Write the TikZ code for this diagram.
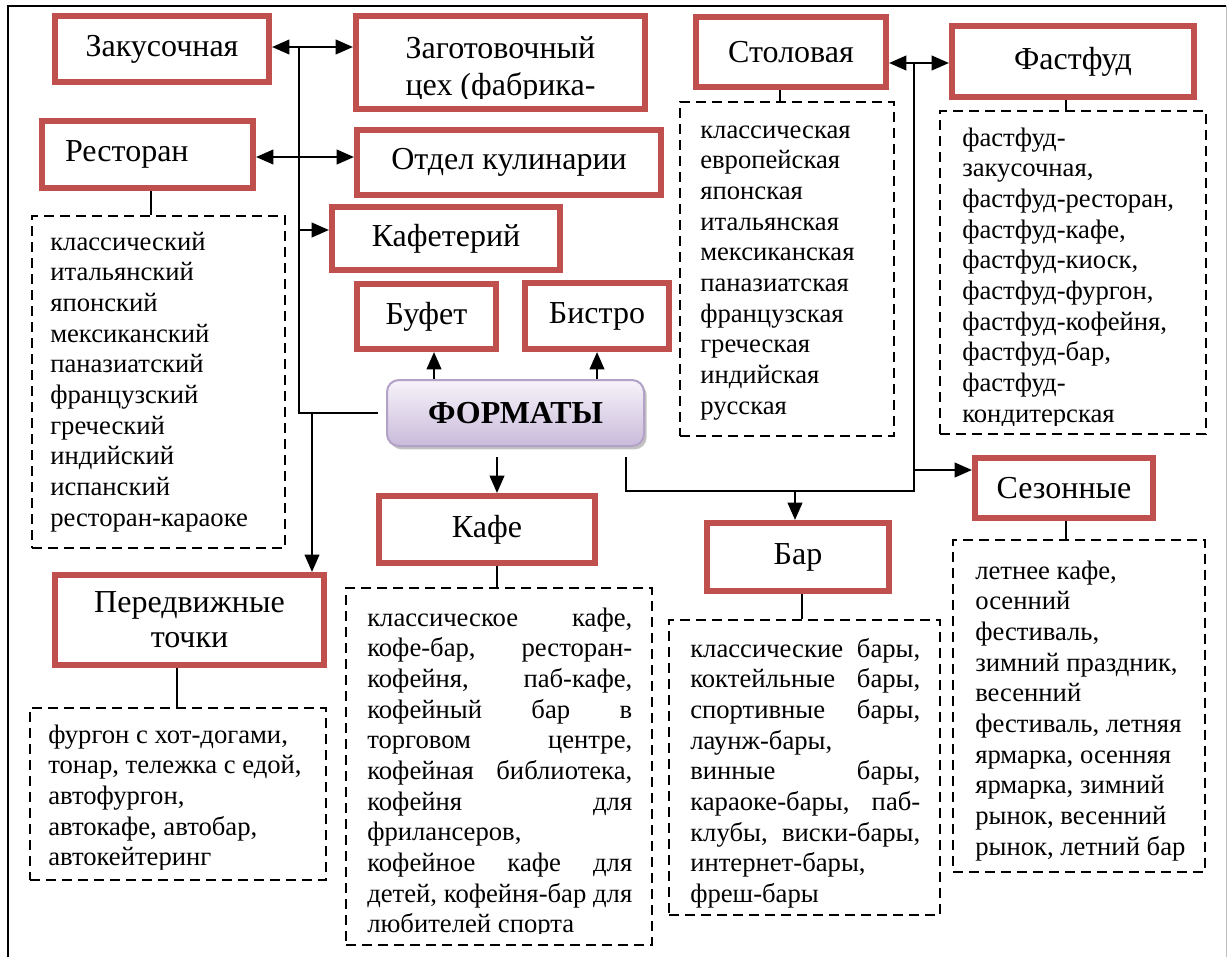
\documentclass[tikz,border=0pt]{standalone}
\usepackage{fontspec}
\setmainfont{Liberation Serif}
\usetikzlibrary{arrows.meta,calc,shadows}
\definecolor{redb}{HTML}{C0504D}
\definecolor{lavtop}{HTML}{F7F3FA}
\definecolor{lavbot}{HTML}{C9BADA}
\definecolor{lavbd}{HTML}{B3A2C7}
\newcommand\jline[1]{\makebox[\linewidth][s]{#1}}
\begin{document}
\begin{tikzpicture}[x=0.75pt,y=-0.75pt,
  title/.style={draw=redb, line width=4.6pt, fill=white, inner sep=0pt,
    font=\fontsize{24}{28}\selectfont, align=center},
  tb/.style 2 args={title, minimum width=#1*0.75pt, minimum height=#2*0.75pt},
  listbox/.style 2 args={draw=black, line width=1.9pt, dash pattern=on 7.5pt off 4.5pt,
    inner sep=0pt, minimum width=#1*0.75pt, minimum height=#2*0.75pt},
  listtxt/.style={anchor=base west, inner sep=0pt, font=\fontsize{20}{23}\selectfont},
  conn/.style={line width=1.6pt},
  arr/.style={conn, -{Triangle[length=13pt,width=11pt]}},
  dbl/.style={conn, {Triangle[length=13pt,width=11pt]}-{Triangle[length=13pt,width=11pt]}},
]
\useasboundingbox (0,0) rectangle (1227,957);
% frame
\draw[line width=1.7pt] (8,957) -- (8,6) -- (1226,6);
\draw[line width=0.6pt, black!25] (1226,6) -- (1226,957);

% title boxes
\node[tb={214}{66}] (zak) at (162,49) {Закусочная};
\node[tb={289}{93}] (zag) at (500.5,62.5) {};
\begin{scope}
  \clip (356,16) rectangle (645,98);
  \node[anchor=base, inner sep=0pt, font=\fontsize{24}{28}\selectfont] (zagt) at (500.5,58)
    {\parbox[t]{280pt}{\centering Заготовочный\\ цех (фабрика-}};
\end{scope}
\node[tb={190}{70}] (stol) at (791,52) {Столовая};
\node[tb={242}{71}] (fast) at (1073,61.5) {Фастфуд};
\node[tb={211}{67}] (rest) at (147.5,154.5) {\hspace*{-31pt}Ресторан};
\node[tb={304}{65}] (otdel) at (509,162.5) {Отдел кулинарии};
\node[tb={228}{63}] (kftr) at (446,238.5) {Кафетерий};
\node[tb={139}{65}] (bufet) at (426.5,316.5) {Буфет};
\node[tb={144}{66}] (bistro) at (597,316) {Бистро};
\node[tb={216}{67}] (kafe) at (487,529.5) {Кафе};
\node[tb={182}{68}] (bar) at (798,557) {Бар};
\node[tb={178}{60}] (sez) at (1064,488) {Сезонные};
\node[tb={269}{90}] (pered) at (189.5,620) {Передвижные\\[-2pt] точки};

% central node
\node[draw=lavbd, line width=1.5pt, rounded corners=9pt, top color=lavtop, bottom color=lavbot,
  minimum width=257*0.75pt, minimum height=66*0.75pt, inner sep=0pt,
  drop shadow={shadow xshift=2pt, shadow yshift=-2.5pt, fill=black!40, opacity=0.6},
  font=\bfseries\fontsize{24}{28}\selectfont] (fmt) at (515.5,413) {ФОРМАТЫ};

% list boxes
\node[listbox={253}{332}] (restL) at (158.5,382) {};
\node[listtxt] (restT) at (50,250) {\parbox[t]{230pt}{\raggedright
  классический\\ итальянский\\ японский\\ мексиканский\\ паназиатский\\
  французский\\ греческий\\ индийский\\ испанский\\ ресторан-караоке}};

\node[listbox={214}{334}] (stolL) at (787,269) {};
\node[listtxt] (stolT) at (700,138) {\parbox[t]{150pt}{\raggedright
  классическая\\ европейская\\ японская\\ итальянская\\ мексиканская\\
  паназиатская\\ французская\\ греческая\\ индийская\\ русская}};

\node[listbox={266}{323}] (fastL) at (1073,272.5) {};
\begin{scope}
  \clip (940,111) rectangle (1206,425);
  \node[listtxt] (fastT) at (962,146) {\parbox[t]{190pt}{\raggedright
    фастфуд-\\ закусочная,\\ фастфуд-ресторан,\\ фастфуд-кафе,\\ фастфуд-киоск,\\
    фастфуд-фургон,\\ фастфуд-кофейня,\\ фастфуд-бар,\\ фастфуд-\\ кондитерская}};
\end{scope}

\node[listbox={252}{332}] (sezL) at (1079,706) {};
\node[listtxt] (sezT) at (975,579) {\parbox[t]{180pt}{\raggedright
  летнее кафе,\\ осенний\\ фестиваль,\\ зимний праздник,\\ весенний\\
  фестиваль, летняя\\ ярмарка, осенняя\\ ярмарка, зимний\\ рынок, весенний\\ рынок, летний бар}};

\node[listbox={271}{295}] (barL) at (804.5,767.5) {};
\node[listtxt] (barT) at (690,657) {\parbox[t]{172.5pt}{\raggedright
  \jline{классические бары,}\\ \jline{коктейльные бары,}\\ \jline{спортивные бары,}\\
  лаунж-бары,\\ \jline{винные бары,}\\ \jline{караоке-бары, паб-}\\
  \jline{клубы, виски-бары,}\\ интернет-бары,\\ фреш-бары}};

\node[listbox={306}{357}] (kafeL) at (499,766.5) {};
\begin{scope}
  \clip (346,588) rectangle (652,933);
  \node[listtxt] (kafeT) at (367,626) {\parbox[t]{198.75pt}{\raggedright
    \jline{классическое кафе,}\\ \jline{кофе-бар, ресторан-}\\ \jline{кофейня, паб-кафе,}\\
    \jline{кофейный бар в}\\ \jline{торговом центре,}\\ \jline{кофейная библиотека,}\\
    \jline{кофейня для}\\ фрилансеров,\\ \jline{кофейное кафе для}\\
    \jline{детей, кофейня-бар для}\\ любителей спорта}};
\end{scope}

\node[listbox={296}{172}] (perL) at (178,794) {};
\begin{scope}
  \clip (30,708) rectangle (326,869);
  \node[listtxt] (perT) at (48,743) {\parbox[t]{215pt}{\raggedright
    фургон с хот-догами,\\ тонар, тележка с едой,\\ автофургон,\\ автокафе, автобар,\\ автокейтеринг}};
\end{scope}

% coordinates
\coordinate (cRest) at (151,0);
\coordinate (cStol) at (780,0);
\coordinate (cFast) at (1066,0);
\coordinate (cKafe) at (497,0);
\coordinate (cBar) at (802,0);
\coordinate (cSez) at (1066,0);
\coordinate (cPer) at (177,0);
\coordinate (cBuf) at (434,0);
\coordinate (cBis) at (597,0);
\coordinate (jA) at (299,47);
\coordinate (jB) at (299,157);
\coordinate (jC) at (299,230);
\coordinate (jD) at (299,413);
\coordinate (jE) at (312,413);
\coordinate (jF) at (378,413);
\coordinate (rA) at (626,457);
\coordinate (rB) at (626,491);
\coordinate (rC) at (914,491);
\coordinate (rD) at (914,63);
\coordinate (rE) at (914,470);
\coordinate (rF) at (795,491);
\coordinate (kA) at (497,457);

% connectors
\draw[conn] (jA) -- (jD) -- (jF);
\draw[dbl] (zak.east |- jA) -- (zag.west |- jA);
\draw[dbl] (rest.east |- jB) -- (otdel.west |- jB);
\draw[arr] (jC) -- (kftr.west |- jC);
\draw[arr] (jE) -- (pered.north -| jE);
\draw[arr] (fmt.north -| cBuf) -- (bufet.south -| cBuf);
\draw[arr] (fmt.north -| cBis) -- (bistro.south -| cBis);
\draw[arr] (kA) -- (kafe.north -| kA);
\draw[conn] (rA) -- (rB) -- (rC) -- (rD);
\draw[dbl] (stol.east |- rD) -- (fast.west |- rD);
\draw[arr] (rE) -- (sez.west |- rE);
\draw[arr] (rF) -- (bar.north -| rF);

\draw[conn] (rest.south -| cRest) -- (restL.north -| cRest);
\draw[conn] (stol.south -| cStol) -- (stolL.north -| cStol);
\draw[conn] (fast.south -| cFast) -- (fastL.north -| cFast);
\draw[conn] (kafe.south -| cKafe) -- (kafeL.north -| cKafe);
\draw[conn] (bar.south -| cBar) -- (barL.north -| cBar);
\draw[conn] (sez.south -| cSez) -- (sezL.north -| cSez);
\draw[conn] (pered.south -| cPer) -- (perL.north -| cPer);
\end{tikzpicture}
\end{document}
